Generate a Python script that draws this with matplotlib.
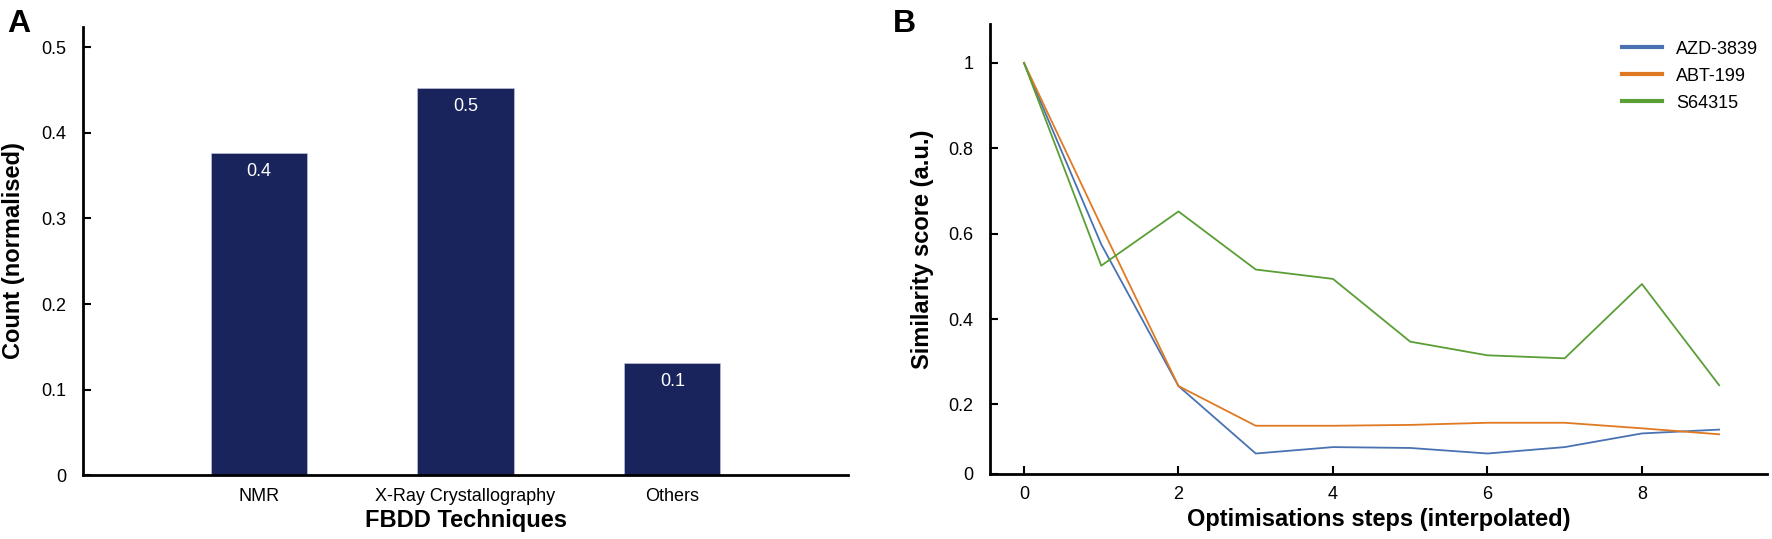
import matplotlib
matplotlib.use("Agg")
import matplotlib.pyplot as plt
import numpy as np

plt.rcParams['font.family'] = ['Liberation Sans', 'DejaVu Sans']

# Panel A data
techniques = ['NMR', 'X-Ray Crystallography', 'Others']
counts = [0.377, 0.453, 0.131]
count_labels = ['0.4', '0.5', '0.1']

# Panel B data
steps = [0, 1, 2, 3, 4, 5, 6, 7, 8, 9]
azd_3839 = [1.0, 0.575, 0.243, 0.085, 0.100, 0.098, 0.085, 0.100, 0.132, 0.141]
abt_199 = [1.0, 0.618, 0.243, 0.150, 0.150, 0.152, 0.157, 0.157, 0.144, 0.130]
s64315 = [1.0, 0.525, 0.652, 0.516, 0.494, 0.347, 0.315, 0.308, 0.482, 0.245]

fig = plt.figure(figsize=(17.72, 5.39), dpi=100)

# ---- Panel A ----
axA = fig.add_axes([0.0468, 0.1187, 0.4318, 0.8313])
x = np.arange(len(techniques))
bars = axA.bar(x, counts, width=0.465, color='#1a245c', edgecolor='#c8cde0', linewidth=0.4)
for xi, v, lab in zip(x, counts, count_labels):
    axA.text(xi, v - 0.012, lab, ha='center', va='top', color='white', fontsize=13)
axA.set_xlim(-0.85, 2.85)
axA.set_ylim(0, 0.524)
axA.set_yticks([0, 0.1, 0.2, 0.3, 0.4, 0.5])
axA.set_yticklabels(['0', '0.1', '0.2', '0.3', '0.4', '0.5'])
axA.set_xticks(x)
axA.set_xticklabels(techniques)
axA.tick_params(axis='y', direction='in', length=6, width=1.5, labelsize=13, pad=12)
axA.tick_params(axis='x', length=0, labelsize=13, pad=9)
axA.set_xlabel('FBDD Techniques', fontsize=17, fontweight='bold', labelpad=3)
axA.set_ylabel('Count (normalised)', fontsize=17, fontweight='bold', labelpad=12)
for s in ['top', 'right']:
    axA.spines[s].set_visible(False)
for s in ['left', 'bottom']:
    axA.spines[s].set_linewidth(2)
fig.text(0.004, 0.94, 'A', fontsize=23, fontweight='bold')

# ---- Panel B ----
axB = fig.add_axes([0.5587, 0.1206, 0.4385, 0.834])
axB.plot(steps, azd_3839, color='#4a72b2', lw=1.3, label='AZD-3839')
axB.plot(steps, abt_199, color='#e07a22', lw=1.3, label='ABT-199')
axB.plot(steps, s64315, color='#5a9e35', lw=1.3, label='S64315')
y0 = 0.037
axB.set_xlim(-0.44, 9.62)
axB.set_ylim(y0, 1.09)
axB.set_yticks([y0, 0.2, 0.4, 0.6, 0.8, 1.0])
axB.set_yticklabels(['0', '0.2', '0.4', '0.6', '0.8', '1'])
axB.set_xticks([0, 2, 4, 6, 8])
axB.tick_params(axis='both', direction='in', length=6, width=1.5, labelsize=13, pad=9)
axB.tick_params(axis='y', pad=12)
axB.set_xlabel('Optimisations steps (interpolated)', fontsize=17, fontweight='bold', labelpad=3)
axB.set_ylabel('Similarity score (a.u.)', fontsize=17, fontweight='bold', labelpad=10)
for s in ['top', 'right']:
    axB.spines[s].set_visible(False)
for s in ['left', 'bottom']:
    axB.spines[s].set_linewidth(2)
leg = axB.legend(loc='upper right', bbox_to_anchor=(1.01, 1.0), frameon=False, fontsize=13,
                 handlelength=2.2, labelspacing=0.55)
for h in leg.get_lines():
    h.set_linewidth(3)
fig.text(0.504, 0.94, 'B', fontsize=23, fontweight='bold')

fig.savefig('out.png', dpi=100)
